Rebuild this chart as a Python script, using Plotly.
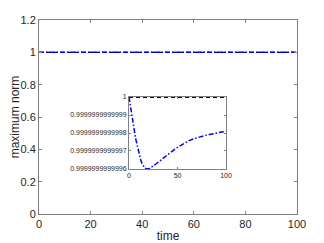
import plotly.graph_objects as go

# main plot data
main_t = [0, 100]
main_norm = [1, 1]
exact_norm = [1, 1]

# inset data: deviation from 1 in units of 1e-13
inset_t = [0, 1, 2, 3, 4, 5, 6, 7, 8, 9, 10, 11, 12, 13, 14, 15, 16, 17, 18, 19, 20, 21, 22, 24, 26, 28, 30, 33, 36, 40, 44, 49, 54, 58, 62, 66, 70, 75, 80, 83, 87, 91, 95, 100]
inset_dev = [0, -0.38, -0.75, -1.1, -1.45, -1.75, -2.05, -2.35, -2.62, -2.88, -3.12, -3.33, -3.5, -3.65, -3.77, -3.86, -3.93, -3.97, -3.99, -4.0, -3.99, -3.97, -3.94, -3.87, -3.79, -3.71, -3.62, -3.5, -3.38, -3.2, -3.03, -2.83, -2.66, -2.53, -2.42, -2.33, -2.26, -2.18, -2.11, -2.08, -2.03, -1.99, -1.95, -1.92]
inset_exact_dev = [0, 0]
inset_exact_t = [0, 100]

inset_ytickvals = [-4, -3, -2, -1, 0]
inset_yticktext = ["0.9999999999996", "0.9999999999997", "0.9999999999998", "0.9999999999999", "1"]

font_main = "Liberation Sans, Arial, sans-serif"
grey = "#262626"
axcol = "#808080"
dashdot = "5px,2px,1.5px,2px"

fig = go.Figure()
fig.add_trace(go.Scatter(x=main_t, y=exact_norm, mode="lines",
                         line=dict(color="black", dash="4px,3px", width=1.2), showlegend=False))
fig.add_trace(go.Scatter(x=main_t, y=main_norm, mode="lines",
                         line=dict(color="#0000ff", dash=dashdot, width=1.5), showlegend=False))
fig.add_trace(go.Scatter(x=inset_exact_t, y=inset_exact_dev, mode="lines", xaxis="x2", yaxis="y2",
                         line=dict(color="black", dash="4px,3px", width=2), showlegend=False))
fig.add_trace(go.Scatter(x=inset_t, y=inset_dev, mode="lines", xaxis="x2", yaxis="y2",
                         line=dict(color="#0000ff", dash=dashdot, width=1.5), showlegend=False))

fig.update_layout(
    width=316, height=235,
    margin=dict(l=31, r=27, t=12, b=29),
    paper_bgcolor="white", plot_bgcolor="white",
    font=dict(family=font_main, color=grey, size=11),
    xaxis=dict(range=[0, 100], tickvals=[0, 20, 40, 60, 80, 100], ticks="inside", ticklen=3,
               showline=True, mirror="ticks", linecolor=axcol, tickcolor=axcol, linewidth=1,
               showgrid=False, zeroline=False, automargin=False,
               title=dict(text="time", font=dict(size=12), standoff=3),
               tickfont=dict(size=11, color=grey)),
    yaxis=dict(range=[0, 1.2], tickvals=[0, 0.2, 0.4, 0.6, 0.8, 1, 1.2],
               ticktext=["0", "0.2", "0.4", "0.6", "0.8", "1", "1.2"],
               ticks="inside", ticklen=3,
               showline=True, mirror="ticks", linecolor=axcol, tickcolor=axcol, linewidth=1,
               showgrid=False, zeroline=False, automargin=False,
               title=dict(text="maximum norm", font=dict(size=12), standoff=3),
               tickfont=dict(size=11, color=grey)),
    xaxis2=dict(domain=[0.349, 0.725], anchor="y2", range=[0, 100], tickvals=[0, 50, 100],
                ticks="inside", ticklen=2, showline=True, mirror="ticks", linecolor=axcol,
                tickcolor=axcol, showgrid=False, zeroline=False, automargin=False,
                tickfont=dict(size=7, color=grey)),
    yaxis2=dict(domain=[0.232, 0.603], anchor="x2", range=[-4, 0], tickvals=inset_ytickvals,
                ticktext=inset_yticktext, ticks="inside", ticklen=2, showline=True, mirror="ticks",
                linecolor=axcol, tickcolor=axcol, showgrid=False, zeroline=False, automargin=False,
                tickfont=dict(size=7, color=grey)),
)

fig.write_html("out.html")
